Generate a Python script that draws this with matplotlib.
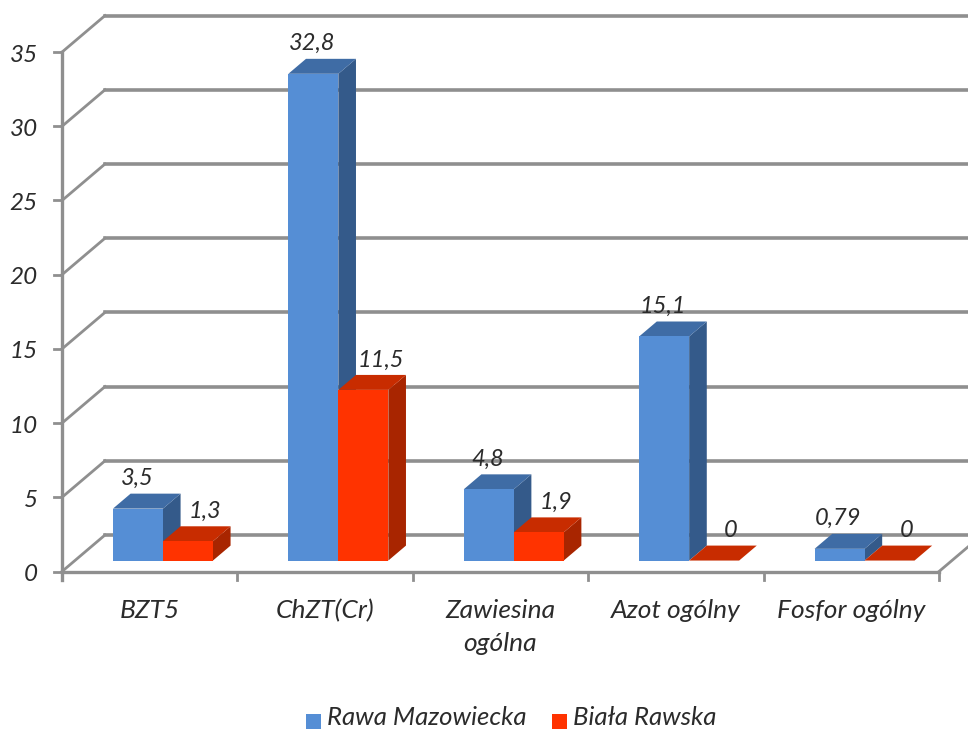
import matplotlib
matplotlib.use('Agg')
import matplotlib.pyplot as plt
from matplotlib.patches import Polygon

categories = ['BZT5', 'ChZT(Cr)', 'Zawiesina\nogólna', 'Azot ogólny', 'Fosfor ogólny']
rawa = [3.5, 32.8, 4.8, 15.1, 0.79]
biala = [1.3, 11.5, 1.9, 0, 0]
rawa_labels = ['3,5', '32,8', '4,8', '15,1', '0,79']
biala_labels = ['1,3', '11,5', '1,9', '0', '0']
yticks = [0, 5, 10, 15, 20, 25, 30, 35]
series_names = ['Rawa Mazowiecka', 'Biała Rawska']

W, H = 968, 731
# pixel anchors of the chart, the oblique frame is built on these
X0, Y0 = 62, 571.5
PX_X = 175.4
PX_Y = 74.2 / 5
DEPTH_X = 43 / PX_X
DEPTH_Y = 36.5 / PX_Y
D0, D1 = 0.30, 0.71

plt.rcParams['font.family'] = ['Lato', 'DejaVu Sans']
plt.rcParams['font.style'] = 'italic'

fig = plt.figure(figsize=(W / 100, H / 100), dpi=100)
ax = fig.add_axes([0, 0, 1, 1])
ax.set_xlim(-X0 / PX_X, (W - X0) / PX_X)
ax.set_ylim(-(H - Y0) / PX_Y, Y0 / PX_Y)
ax.axis('off')

GREY = '#8f8f8f'
TXT = '#2b2b2b'


def proj(x, y, d):
    return (x + d * DEPTH_X, y + d * DEPTH_Y)


def box(x, w, h, front, top, side):
    ax.add_patch(Polygon([proj(x + w, 0, D0), proj(x + w, 0, D1), proj(x + w, h, D1), proj(x + w, h, D0)],
                         fc=side, ec='none', zorder=3))
    ax.add_patch(Polygon([proj(x, h, D0), proj(x, h, D1), proj(x + w, h, D1), proj(x + w, h, D0)],
                         fc=top, ec='none', zorder=3))
    ax.add_patch(Polygon([proj(x, 0, D0), proj(x + w, 0, D0), proj(x + w, h, D0), proj(x, h, D0)],
                         fc=front, ec='none', zorder=3))


# walls
xright = (W - X0) / PX_X
for v in yticks:
    bx, by = proj(0, v, 1)
    ax.plot([0, bx], [v, by], color=GREY, lw=2, zorder=1)
    ax.plot([bx, xright], [by, by], color=GREY, lw=2.6, zorder=1)
    ax.plot([-8 / PX_X, 0], [v, v], color=GREY, lw=2, zorder=2)
    ax.text(-24 / PX_X, v - 3 / PX_Y, str(v), ha='right', va='center', fontsize=17.5, color=TXT)

ax.plot([0, 0], [-8 / PX_Y, 35], color=GREY, lw=2.4, zorder=2)
ax.plot([0, 5], [0, 0], color=GREY, lw=2.4, zorder=2)
for i in range(6):
    ax.plot([i, i], [-8 / PX_Y, 0], color=GREY, lw=2, zorder=2)
ax.plot([5, 5 + DEPTH_X], [0, DEPTH_Y], color=GREY, lw=2, zorder=1)

# bars
BW = 0.285
GAP = 0.217
LABEL_UP = 30 / PX_Y
for i in range(5):
    box(i + GAP, BW, rawa[i], '#558ed5', '#3f6ca5', '#345a8a')
    box(i + GAP + BW, BW, biala[i], '#ff3300', '#c82c00', '#a82500')
    lx_b, ly_b = proj(i + GAP + BW / 2, rawa[i] + LABEL_UP, D0)
    lx_r, ly_r = proj(i + GAP + BW * 1.5 + 17 / PX_X, biala[i] + LABEL_UP, D0)
    ax.text(lx_b - 1 / PX_X, ly_b, rawa_labels[i], ha='center', va='center', fontsize=17, color=TXT, zorder=4)
    ax.text(lx_r, ly_r, biala_labels[i], ha='center', va='center', fontsize=17, color=TXT, zorder=4)
    ax.text(i + 0.5, -28 / PX_Y, categories[i], ha='center', va='top', fontsize=19, color=TXT,
            linespacing=1.5)

# legend, low on the page like in the source but with the text kept whole
lx = [(306 - X0) / PX_X, (552 - X0) / PX_X]
colors = ['#558ed5', '#ff3300']
ly0 = -(729 - Y0) / PX_Y
ly1 = -(714 - Y0) / PX_Y
for k in range(2):
    ax.add_patch(Polygon([(lx[k], ly0), (lx[k] + 15 / PX_X, ly0), (lx[k] + 15 / PX_X, ly1), (lx[k], ly1)],
                         fc=colors[k], ec='none'))
    ax.text(lx[k] + 21 / PX_X, -(725 - Y0) / PX_Y, series_names[k], ha='left', va='baseline',
            fontsize=18.5, color=TXT)

fig.savefig('out.png', dpi=100)
